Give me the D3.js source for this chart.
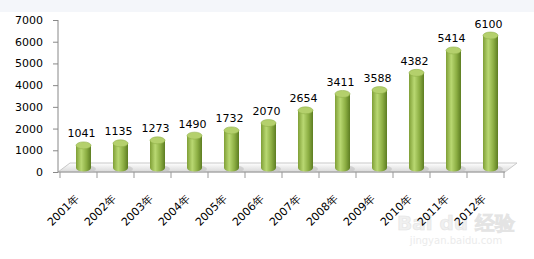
<!DOCTYPE html>
<html>
<head>
<meta charset="utf-8">
<script src="https://cdn.jsdelivr.net/npm/d3@7"></script>
<style>
  body { margin: 0; background: #fff; }
  svg { display: block; }
</style>
</head>
<body>
<svg id="chart"></svg>
<script>
var years = ['2001年','2002年','2003年','2004年','2005年','2006年','2007年','2008年','2009年','2010年','2011年','2012年'];
var values = [1041, 1135, 1273, 1490, 1732, 2070, 2654, 3411, 3588, 4382, 5414, 6100];
var yTicks = [0, 1000, 2000, 3000, 4000, 5000, 6000, 7000];

var width = 534, height = 259;
var depth = 12, lift = 9;   // floor depth offsets

var svg = d3.select('#chart').attr('width', width).attr('height', height);

var defs = svg.append('defs');
var cyl = defs.append('linearGradient').attr('id', 'cyl').attr('x1', 0).attr('x2', 1).attr('y1', 0).attr('y2', 0);
cyl.append('stop').attr('offset', '0%').attr('stop-color', '#7f9f36');
cyl.append('stop').attr('offset', '35%').attr('stop-color', '#b9d872');
cyl.append('stop').attr('offset', '70%').attr('stop-color', '#8cae43');
cyl.append('stop').attr('offset', '100%').attr('stop-color', '#5d7d22');

var floorG = defs.append('linearGradient').attr('id', 'floor').attr('x1', 0).attr('x2', 0).attr('y1', 0).attr('y2', 1);
floorG.append('stop').attr('offset', '0%').attr('stop-color', '#ffffff');
floorG.append('stop').attr('offset', '100%').attr('stop-color', '#d8d8d8');

// top strip of the screenshot
svg.append('rect').attr('x', 0).attr('y', 0).attr('width', width).attr('height', 12).attr('fill', '#f4f6fa');

var x = d3.scaleBand().domain(years).range([60, 504]).paddingInner(0).paddingOuter(0);
var y = d3.scaleLinear().domain([0, 7000]).range([172, 20]);

// watermark (behind everything)
svg.append('text').attr('x', 456).attr('y', 230).attr('text-anchor', 'middle')
  .attr('font-family', 'DejaVu Sans').attr('font-size', 20).attr('font-weight', 'bold')
  .attr('fill', '#f0f0f0').attr('stroke', '#e4e4e4').attr('stroke-width', 0.6).text('Bai du 经验');
svg.append('text').attr('x', 456).attr('y', 244).attr('text-anchor', 'middle')
  .attr('font-family', 'DejaVu Sans').attr('font-size', 10)
  .attr('fill', '#ebebeb').text('jingyan.baidu.com');

// floor
var x0 = 58, x1 = 505, yb = y(0);
svg.append('path')
  .attr('d', 'M' + x0 + ',' + yb + 'L' + (x0 + depth) + ',' + (yb - lift) + 'L' + (x1 + depth) + ',' + (yb - lift) + 'L' + x1 + ',' + yb + 'Z')
  .attr('fill', 'url(#floor)').attr('stroke', '#c8c8c8').attr('stroke-width', 1);

// y axis
var yAxis = d3.axisLeft(y).tickValues(yTicks).tickFormat(d3.format('d')).tickSize(5).tickPadding(10);
var gy = svg.append('g').attr('transform', 'translate(58,0)').call(yAxis);
gy.select('.domain').attr('stroke', '#888').attr('d', 'M0,' + y(7000) + 'V' + y(0));
gy.selectAll('.tick line').attr('stroke', '#888');
gy.selectAll('text').attr('font-family', 'DejaVu Sans').attr('font-size', 11).attr('fill', '#000');

// x axis ticks and labels
var gx = svg.append('g').attr('transform', 'translate(0,' + yb + ')');
gx.append('line').attr('x1', 58).attr('x2', 505).attr('stroke', '#999');
gx.selectAll('.xt').data(years.concat(['end'])).enter().append('line')
  .attr('x1', function(d, i) { return 60 + i * x.step(); })
  .attr('x2', function(d, i) { return 60 + i * x.step(); })
  .attr('y1', 0).attr('y2', 6).attr('stroke', '#999');
gx.selectAll('.xl').data(years).enter().append('text')
  .attr('transform', function(d) { return 'translate(' + (x(d) + x.bandwidth() / 2 + 1) + ',27) rotate(-45)'; })
  .attr('text-anchor', 'end')
  .attr('font-family', 'DejaVu Sans').attr('font-size', 11)
  .text(function(d) { return d; });

// cylinders
var bw = 15, ry = 3.5, off = 5;
var bars = svg.append('g').selectAll('g').data(values).enter().append('g');
bars.each(function(v, i) {
  var g = d3.select(this);
  var cx = x(years[i]) + x.bandwidth() / 2 + off;
  var base = y(0) - 4, top = y(v) - 4;
  // shadow on floor
  g.append('ellipse').attr('cx', cx + 3).attr('cy', base + 1).attr('rx', bw / 2 + 2).attr('ry', ry)
    .attr('fill', '#bfbfbf').attr('opacity', 0.6);
  g.append('path')
    .attr('d', 'M' + (cx - bw / 2) + ',' + top + 'V' + base + 'A' + (bw / 2) + ',' + ry + ' 0 0,0 ' + (cx + bw / 2) + ',' + base + 'V' + top + 'Z')
    .attr('fill', 'url(#cyl)');
  g.append('ellipse').attr('cx', cx).attr('cy', top).attr('rx', bw / 2).attr('ry', ry)
    .attr('fill', '#b4d06c').attr('stroke', '#90b04a').attr('stroke-width', 0.6);
  g.append('text').attr('x', cx - 2).attr('y', top - 8)
    .attr('text-anchor', 'middle')
    .attr('font-family', 'DejaVu Sans').attr('font-size', 11)
    .text(v);
});
</script>
</body>
</html>
